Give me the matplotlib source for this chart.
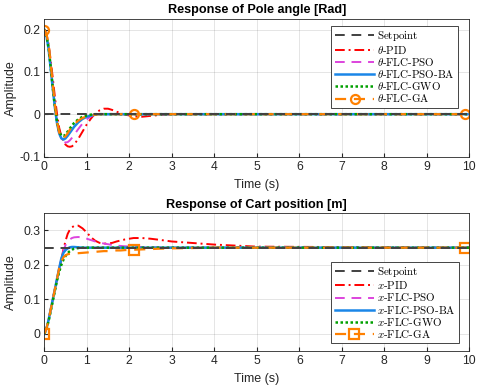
import matplotlib
matplotlib.use("Agg")
import matplotlib.pyplot as plt

plt.rcParams['font.family'] = ['Liberation Sans', 'DejaVu Sans']
plt.rcParams['mathtext.fontset'] = 'cm'
plt.rcParams['axes.unicode_minus'] = False

t = [0, 0.05, 0.1, 0.15, 0.2, 0.25, 0.3, 0.35, 0.4, 0.45, 0.5, 0.55, 0.6, 0.65, 0.7,
     0.8, 0.9, 1.0, 1.1, 1.2, 1.3, 1.4, 1.5, 1.6, 1.7, 1.8, 1.9, 2.1, 2.3, 2.5, 2.7,
     3.0, 4.0, 5.0, 9.9, 10.0]

theta_setpoint = [0.0] * len(t)
theta_pid = [0.2, 0.19, 0.166, 0.128, 0.085, 0.04, 0.0, -0.032, -0.052, -0.064, -0.072, -0.076,
             -0.077, -0.076, -0.072, -0.058, -0.041, -0.024, -0.01, 0.002, 0.009, 0.013, 0.013,
             0.01, 0.006, 0.002, -0.001, -0.005, -0.006, -0.004, -0.002, 0.0, 0.0, 0.0, 0.0, 0.0]
theta_pso = [0.2, 0.188, 0.16, 0.115, 0.065, 0.02, -0.02, -0.045, -0.059, -0.065, -0.067, -0.066,
             -0.062, -0.056, -0.049, -0.035, -0.022, -0.012, -0.005, -0.001, 0.0, 0.0, 0.0,
             0.0, 0.0, 0.0, 0.0, 0.0, 0.0, 0.0, 0.0, 0.0, 0.0, 0.0, 0.0, 0.0]
theta_psoba = [0.2, 0.185, 0.155, 0.108, 0.06, 0.015, -0.022, -0.045, -0.057, -0.06, -0.057, -0.051,
               -0.044, -0.037, -0.03, -0.019, -0.011, -0.006, -0.003, -0.001, 0.0, 0.0, 0.0,
               0.0, 0.0, 0.0, 0.0, 0.0, 0.0, 0.0, 0.0, 0.0, 0.0, 0.0, 0.0, 0.0]
theta_gwo = [0.2, 0.186, 0.158, 0.112, 0.063, 0.018, -0.018, -0.04, -0.051, -0.052, -0.048, -0.041,
             -0.034, -0.027, -0.021, -0.012, -0.006, -0.003, -0.001, 0.0, 0.0, 0.0, 0.0,
             0.0, 0.0, 0.0, 0.0, 0.0, 0.0, 0.0, 0.0, 0.0, 0.0, 0.0, 0.0, 0.0]
theta_ga = [0.2, 0.19, 0.165, 0.12, 0.07, 0.022, -0.018, -0.043, -0.056, -0.057, -0.052, -0.045,
            -0.037, -0.03, -0.024, -0.015, -0.009, -0.005, -0.002, -0.001, 0.0, 0.0, 0.0,
            0.0, 0.0, 0.0, 0.0, 0.0, 0.0, 0.0, 0.0, 0.0, 0.0, 0.0, 0.0, 0.0]

x_setpoint = [0.25] * len(t)
x_pid = [0.0, 0.015, 0.04, 0.07, 0.1, 0.13, 0.16, 0.19, 0.215, 0.245, 0.27, 0.29, 0.302, 0.309,
         0.313, 0.314, 0.306, 0.294, 0.28, 0.27, 0.264, 0.262, 0.262, 0.264, 0.268, 0.271,
         0.274, 0.278, 0.278, 0.276, 0.273, 0.268, 0.259, 0.253, 0.25, 0.25]
x_pso = [0.0, 0.015, 0.04, 0.07, 0.1, 0.13, 0.16, 0.19, 0.215, 0.24, 0.258, 0.268, 0.274, 0.278,
         0.28, 0.281, 0.279, 0.276, 0.272, 0.268, 0.265, 0.262, 0.26, 0.258, 0.256, 0.255,
         0.254, 0.253, 0.252, 0.251, 0.251, 0.25, 0.25, 0.25, 0.25, 0.25]
x_psoba = [0.0, 0.015, 0.04, 0.07, 0.1, 0.13, 0.16, 0.19, 0.218, 0.235, 0.243, 0.248, 0.251, 0.252,
           0.252, 0.251, 0.25, 0.25, 0.25, 0.25, 0.25, 0.25, 0.25, 0.25, 0.25, 0.25,
           0.25, 0.25, 0.25, 0.25, 0.25, 0.25, 0.25, 0.25, 0.25, 0.25]
x_gwo = [0.0, 0.013, 0.036, 0.065, 0.095, 0.125, 0.155, 0.18, 0.2, 0.215, 0.226, 0.234, 0.24, 0.244,
         0.247, 0.249, 0.25, 0.25, 0.25, 0.25, 0.25, 0.25, 0.25, 0.25, 0.25, 0.25,
         0.25, 0.25, 0.25, 0.25, 0.25, 0.25, 0.25, 0.25, 0.25, 0.25]
x_ga = [0.0, 0.015, 0.04, 0.07, 0.1, 0.13, 0.16, 0.19, 0.21, 0.222, 0.228, 0.231, 0.232, 0.233,
        0.233, 0.234, 0.235, 0.236, 0.237, 0.238, 0.239, 0.24, 0.24, 0.241, 0.242, 0.242,
        0.243, 0.244, 0.245, 0.246, 0.247, 0.248, 0.25, 0.25, 0.25, 0.25]

ga_marker_idx = [0, 27, 34]

theta_labels = [r'$\mathrm{Setpoint}$', r'$\theta\text{-}\mathrm{PID}$',
                r'$\theta\text{-}\mathrm{FLC\text{-}PSO}$', r'$\theta\text{-}\mathrm{FLC\text{-}PSO\text{-}BA}$',
                r'$\theta\text{-}\mathrm{FLC\text{-}GWO}$', r'$\theta\text{-}\mathrm{FLC\text{-}GA}$']
x_labels = [r'$\mathrm{Setpoint}$', r'$x\text{-}\mathrm{PID}$',
            r'$x\text{-}\mathrm{FLC\text{-}PSO}$', r'$x\text{-}\mathrm{FLC\text{-}PSO\text{-}BA}$',
            r'$x\text{-}\mathrm{FLC\text{-}GWO}$', r'$x\text{-}\mathrm{FLC\text{-}GA}$']

fig = plt.figure(figsize=(4.8, 3.87), dpi=100)
ax1 = fig.add_axes([0.0923, 0.5956, 0.8854, 0.3553])
ax2 = fig.add_axes([0.0923, 0.093, 0.8854, 0.356])

c_set = '#404040'
c_red = '#FF0000'
c_mag = '#DD44DD'
c_blue = '#1A86E8'
c_green = '#00A000'
c_orange = '#FF8000'


def draw(ax, sp, pid, pso, psoba, gwo, ga, labels, marker):
    ax.plot(t, sp, color=c_set, ls=(0, (5, 3.5)), lw=1.4, label=labels[0], zorder=3)
    ax.plot(t, pid, color=c_red, ls=(0, (5, 2, 1, 2)), lw=1.4, label=labels[1])
    ax.plot(t, pso, color=c_mag, ls=(0, (5, 3.5)), lw=1.4, label=labels[2])
    ax.plot(t, psoba, color=c_blue, ls='-', lw=1.8, label=labels[3])
    ax.plot(t, gwo, color=c_green, ls=(0, (1, 1)), lw=1.8, label=labels[4])
    ax.plot(t, ga, color=c_orange, ls=(0, (5, 3.5)), lw=1.6, marker=marker, ms=6.5,
            mfc='none', mec=c_orange, mew=1.6, markevery=ga_marker_idx, label=labels[5])


draw(ax1, theta_setpoint, theta_pid, theta_pso, theta_psoba, theta_gwo, theta_ga, theta_labels, 'o')
draw(ax2, x_setpoint, x_pid, x_pso, x_psoba, x_gwo, x_ga, x_labels, 's')

for ax in (ax1, ax2):
    ax.set_xlim(0, 10)
    ax.set_xticks(range(0, 11))
    ax.grid(True, color='#262626', alpha=0.12, lw=0.7)
    ax.tick_params(direction='in', length=3, labelsize=8.7, colors='#262626', pad=3)
    for s in ax.spines.values():
        s.set_color('#262626')
        s.set_linewidth(0.6)
    ax.set_xlabel('Time (s)', fontsize=9, color='#262626')
    ax.set_ylabel('Amplitude', fontsize=9, color='#262626')
    ax.yaxis.set_label_coords(-0.064, 0.5)
    ax.set_axisbelow(True)

ax1.xaxis.set_label_coords(0.5, -0.16)
ax2.xaxis.set_label_coords(0.5, -0.16)

ax1.set_ylim(-0.1, 0.225)
ax1.set_yticks([-0.1, 0, 0.1, 0.2])
ax1.set_yticklabels(['-0.1', '0', '0.1', '0.2'])
ax2.set_ylim(-0.05, 0.35)
ax2.set_yticks([0, 0.1, 0.2, 0.3])
ax2.set_yticklabels(['0', '0.1', '0.2', '0.3'])

ax1.set_title('Response of Pole angle [Rad]', fontsize=9.1, fontweight='bold', pad=4)
ax2.set_title('Response of Cart position [m]', fontsize=9.1, fontweight='bold', pad=4)

for ax, loc, anchor in ((ax1, 'upper right', (0.9734, 0.949)), (ax2, 'lower right', (0.9758, 0.056))):
    leg = ax.legend(loc=loc, bbox_to_anchor=anchor, fontsize=7.9, handlelength=3.6, handletextpad=0.25,
                    labelspacing=0.02, borderpad=0.3, borderaxespad=0.0, fancybox=False,
                    framealpha=1, edgecolor='#262626')
    leg.get_frame().set_linewidth(0.6)

fig.savefig('out.png', dpi=100)
